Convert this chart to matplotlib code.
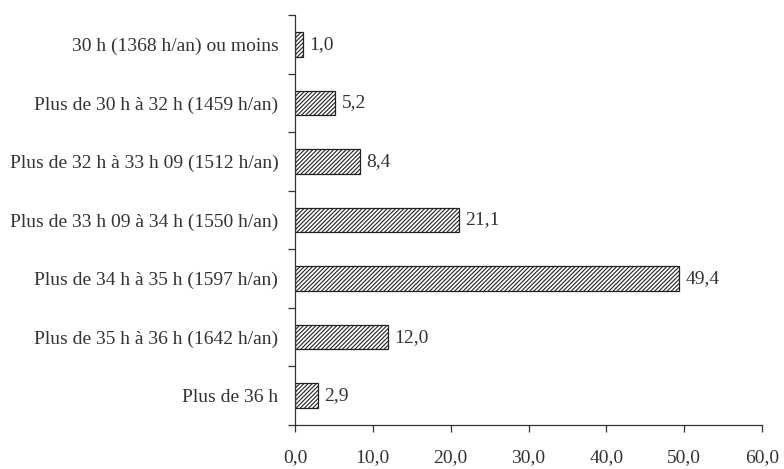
import matplotlib
matplotlib.use("Agg")
import matplotlib.pyplot as plt
import numpy as np

categories = [
    "30 h (1368 h/an) ou moins",
    "Plus de 30 h à 32 h (1459 h/an)",
    "Plus de 32 h à 33 h 09 (1512 h/an)",
    "Plus de 33 h 09 à 34 h (1550 h/an)",
    "Plus de 34 h à 35 h (1597 h/an)",
    "Plus de 35 h à 36 h (1642 h/an)",
    "Plus de 36 h",
]
values = [1.0, 5.2, 8.4, 21.1, 49.4, 12.0, 2.9]
xticks = [0, 10, 20, 30, 40, 50, 60]

plt.rcParams['font.family'] = ['Liberation Serif', 'DejaVu Serif']
plt.rcParams['hatch.linewidth'] = 0.8
plt.rcParams['hatch.color'] = '#333333'

FS = 14
fig = plt.figure(figsize=(7.84, 4.69), dpi=100)
ax = fig.add_axes([295/784, 1-425/469, (762-295)/784, (425-15)/469])

n = len(categories)
y = np.arange(n)
bars = ax.barh(y, values, height=0.42, color='white', edgecolor='#222222',
               linewidth=0.9, hatch='////////')
ax.set_ylim(n - 0.5, -0.5)
ax.set_xlim(0, 60)

for yi, v in zip(y, values):
    ax.text(v + 0.8, yi, f"{v:.1f}".replace('.', ','), va='center', ha='left',
            fontsize=FS, color='#333333')

ax.set_yticks(y)
ax.set_yticklabels(categories, fontsize=FS, color='#333333')
ax.tick_params(axis='y', which='major', length=0, pad=12)
ax.set_yticks(np.arange(n + 1) - 0.5, minor=True)
ax.tick_params(axis='y', which='minor', length=5, width=0.9, color='#333333')

ax.set_xticks(xticks)
ax.set_xticklabels([f"{t:.1f}".replace('.', ',') for t in xticks], fontsize=FS, color='#333333')
ax.tick_params(axis='x', length=5, width=0.9, color='#333333', pad=12)

for s in ['top', 'right']:
    ax.spines[s].set_visible(False)
for s in ['left', 'bottom']:
    ax.spines[s].set_color('#333333')
    ax.spines[s].set_linewidth(0.9)

fig.savefig("out.png", dpi=100)
